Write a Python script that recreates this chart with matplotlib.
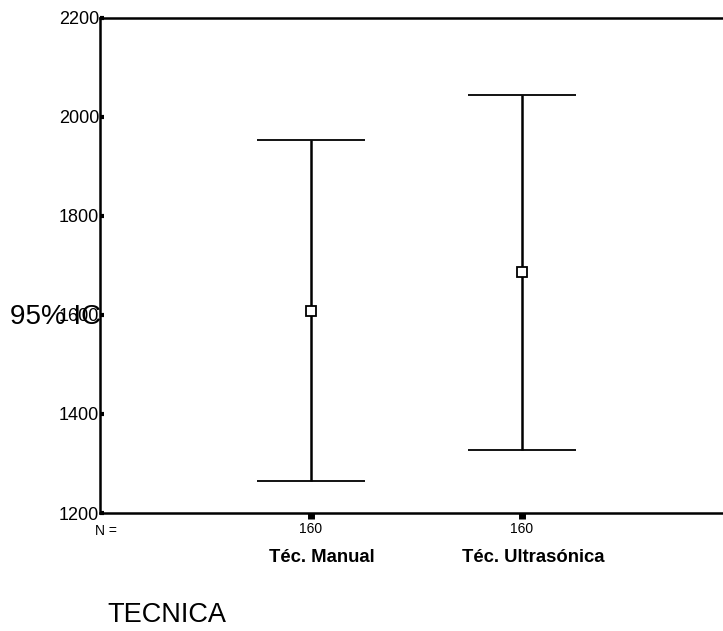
import matplotlib
matplotlib.use("Agg")
import matplotlib.pyplot as plt

# datos (IC 95%)
categorias = ["Téc. Manual", "Téc. Ultrasónica"]
n_casos = [160, 160]
medias = [1608, 1687]
ic_inf = [1265, 1327]
ic_sup = [1954, 2044]
yticks = [1200, 1400, 1600, 1800, 2000, 2200]

plt.rcParams["font.family"] = ["Liberation Sans", "DejaVu Sans"]

fig = plt.figure(figsize=(7.23, 6.31), dpi=100)
ax = fig.add_axes([0.138, 0.187, 0.8755, 0.7845])

x = [1, 2]
err_bajo = [m - lo for m, lo in zip(medias, ic_inf)]
err_alto = [hi - m for m, hi in zip(medias, ic_sup)]
ax.errorbar(
    x, medias, yerr=[err_bajo, err_alto],
    fmt="s", color="black", mfc="white", mec="black", ms=7, mew=1.3,
    ecolor="black", elinewidth=1.8, capsize=39, capthick=1.8,
)

ax.set_xlim(0, 3)
ax.set_ylim(1200, 2200)
ax.set_yticks(yticks)
ax.set_yticklabels([str(v) for v in yticks])
ax.set_xticks(x)
ax.set_xticklabels([f"{n}" for n in n_casos])

for lado in ["left", "bottom", "top"]:
    ax.spines[lado].set_linewidth(1.8)
ax.spines["right"].set_visible(False)

ax.tick_params(axis="y", direction="in", length=3, width=3, pad=0.5, labelsize=13)
ax.tick_params(axis="x", direction="out", length=4, width=5, pad=2.5, labelsize=10)

fig.text(0.131, 0.159, "N =", fontsize=10, ha="left", va="center")
for xi, cat in zip(x, categorias):
    ax.annotate(cat, xy=(xi, 0), xycoords=("data", "axes fraction"),
                xytext=(8, -32), textcoords="offset points",
                ha="center", va="center", fontsize=13.3, fontweight="bold")

fig.text(0.014, 0.497, "95% IC", fontsize=20, ha="left", va="center")
fig.text(0.148, 0.026, "TECNICA", fontsize=19.5, ha="left", va="center")

fig.savefig("out.png", dpi=100)
plt.close(fig)
